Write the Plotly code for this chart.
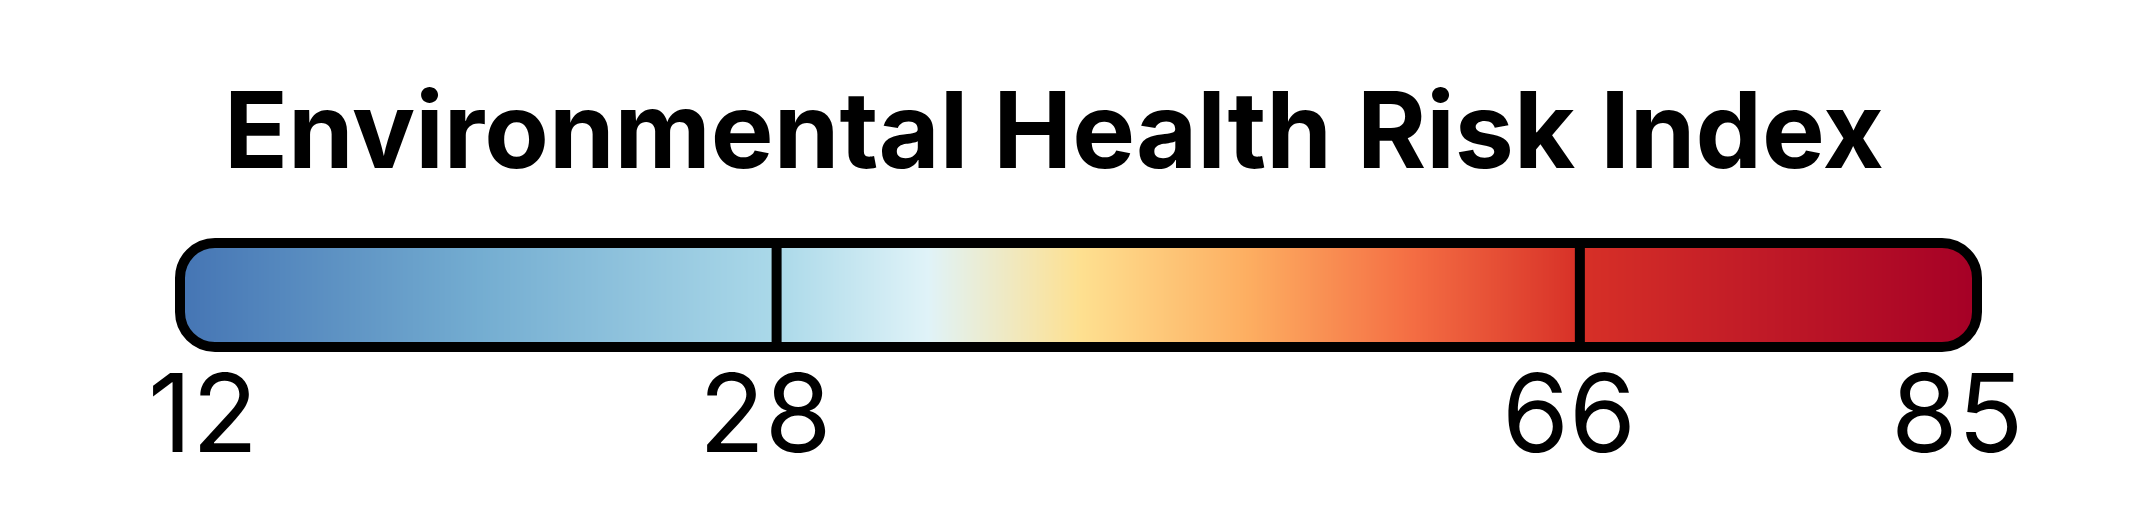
import numpy as np
import plotly.graph_objects as go

# ---- data ----
title_text = "Environmental Health Risk Index"
break_values = [12, 28, 66, 85]
break_positions = [0.0, 0.332, 0.779, 1.0]   # legend scale (fraction of bar length)
stop_positions = [0.0, 0.166, 0.332, 0.416, 0.501, 0.594, 0.686, 0.779, 1.0]
stop_colors = ["#4575b4", "#74add1", "#abd9e9", "#e0f3f8", "#fee090",
               "#fdae61", "#f46d43", "#d73027", "#a50026"]
label_xshift = [23, -11, -11, -20]   # style: nudge of each label in px

W, H = 2132, 512
# pixel geometry of the bar centre-line
BX0, BX1 = 172, 1969
BY_TOP, BY_BOT = 235, 339
BW, BH = BX1 - BX0, BY_BOT - BY_TOP
# axis domain in pixels (a bit larger than the bar so the border isn't clipped)
DX0, DX1 = 100, 2040
DY_TOP, DY_BOT = 215, 359
xr = [(DX0 - BX0) / BW, (DX1 - BX0) / BW]
yr = [(BY_BOT - DY_BOT) / BH, (BY_BOT - DY_TOP) / BH]

colorscale = [[p, c] for p, c in zip(stop_positions, stop_colors)]

xs = np.linspace(0, 1, 600)
fig = go.Figure(go.Heatmap(
    x=xs, y=[0, 1], z=[xs, xs], colorscale=colorscale, zmin=0, zmax=1,
    zsmooth="best", showscale=False, hoverinfo="skip"))

# rounded rect path (cubic approximations of quarter circles)
R = 35
rx, ry = R / BW, R / BH
k = 0.5523
def rr():
    return (f"M {rx},0 L {1-rx},0 C {1-rx+k*rx},0 1,{ry-k*ry} 1,{ry} "
            f"L 1,{1-ry} C 1,{1-ry+k*ry} {1-rx+k*rx},1 {1-rx},1 "
            f"L {rx},1 C {rx-k*rx},1 0,{1-ry+k*ry} 0,{1-ry} "
            f"L 0,{ry} C 0,{ry-k*ry} {rx-k*rx},0 {rx},0 Z")

outer = (f"M {xr[0]},{yr[0]} L {xr[1]},{yr[0]} L {xr[1]},{yr[1]} "
         f"L {xr[0]},{yr[1]} Z ")
shapes = [
    dict(type="path", path=outer + rr(), xref="x", yref="y",
         fillcolor="white", line=dict(width=0), fillrule="evenodd", layer="above"),
]
for p in break_positions[1:-1]:
    shapes.append(dict(type="line", x0=p, x1=p, y0=0, y1=1, xref="x", yref="y",
                       line=dict(color="black", width=10), layer="above"))
shapes.append(dict(type="path", path=rr(), xref="x", yref="y",
                   line=dict(color="black", width=10), layer="above"))

annotations = [dict(text=f"<b>{title_text}</b>", x=0.5, xref="paper", xshift=-20,
                    y=1 - 121 / H, yref="paper", yanchor="middle", xanchor="center",
                    showarrow=False,
                    font=dict(family="Inter", size=105.5, color="black"))]
for v, p, dx in zip(break_values, break_positions, label_xshift):
    annotations.append(dict(text=str(v), x=p, xref="x", xshift=dx, y=1 - 404 / H,
                            yref="paper", yanchor="middle", xanchor="center",
                            showarrow=False,
                            font=dict(family="Inter", size=108, color="black")))

fig.update_layout(
    width=W, height=H, margin=dict(l=0, r=0, t=0, b=0),
    paper_bgcolor="white", plot_bgcolor="white",
    xaxis=dict(domain=[DX0 / W, DX1 / W], range=xr, visible=False, fixedrange=True),
    yaxis=dict(domain=[1 - DY_BOT / H, 1 - DY_TOP / H], range=yr, visible=False,
               fixedrange=True),
    shapes=shapes, annotations=annotations, showlegend=False,
)
fig.write_html("out.html")
